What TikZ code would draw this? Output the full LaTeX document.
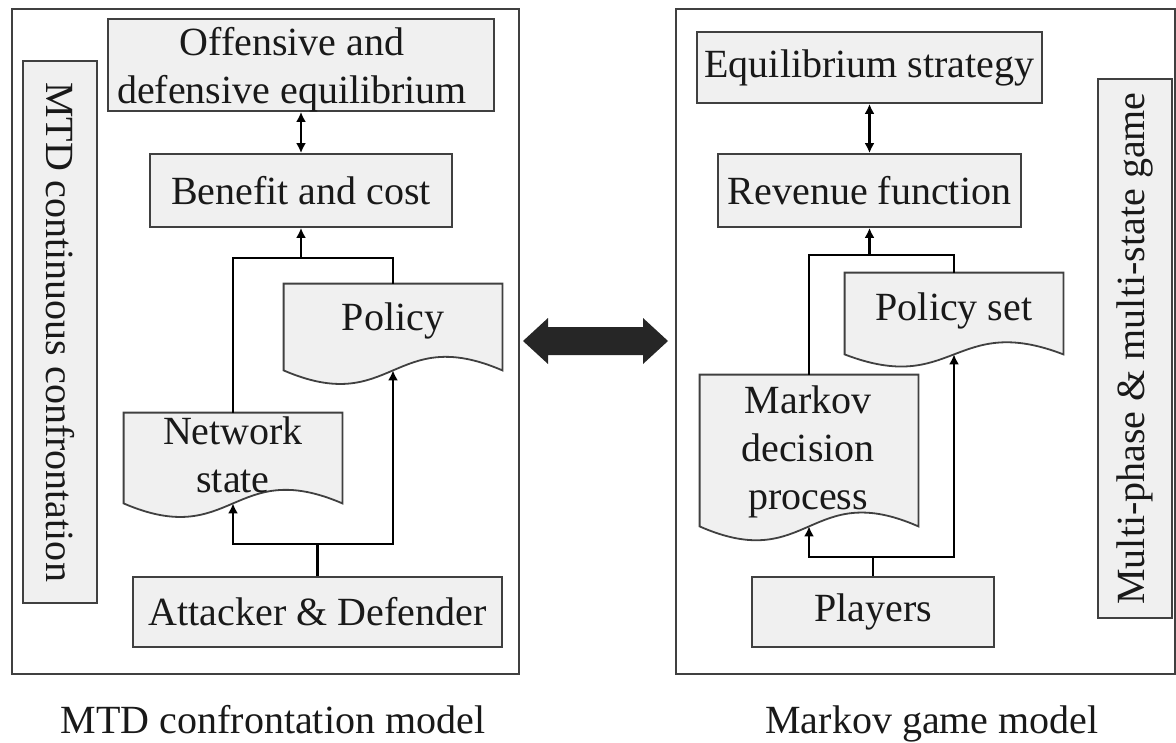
\documentclass[tikz,border=0pt]{standalone}
\usepackage{fontspec}
\setmainfont{Liberation Serif}
\usetikzlibrary{arrows.meta,calc}
\newcommand\figfont{\fontsize{20}{24}\selectfont}
\newcommand\docoutline[2]{%
  \path[docline] (#1.north west) -- (#1.north east) -- (#1.south east)
    .. controls +(-109,-#2) and +(109,#2) .. (#1.south west) -- cycle;}
\begin{document}
\begin{tikzpicture}[x=0.5pt,y=-0.5pt,
  box/.style={draw=black!75,fill=black!6,line width=0.9pt,inner sep=0pt,align=center,font=\figfont,text=black!90},
  frame/.style={draw=black!75,line width=1.3pt,inner sep=0pt},
  docarea/.style={inner sep=0pt},
  docline/.style={draw=black!75,fill=black!6,line width=0.9pt},
  txt/.style={inner sep=0pt,align=center,font=\figfont,text=black!90},
  conn/.style={draw=black,line width=1.1pt},
  arr/.style={conn,-{Latex[length=5pt,width=5pt]}},
  dbl/.style={conn,{Latex[length=5pt,width=5pt]}-{Latex[length=5pt,width=5pt]}},
]
\useasboundingbox (0,0) rectangle (1176,743);

% frames
\node[frame,minimum width=253.5pt,minimum height=332.5pt] (lframe) at (265.5,341.5) {};
\node[frame,minimum width=249.5pt,minimum height=332.5pt] (rframe) at (925.5,341.5) {};

% ---------- left panel ----------
\node[box,rotate=-90,minimum width=271pt,minimum height=37pt] (mtd) at (60,332) {MTD continuous confrontation};
\node[box,minimum width=193pt,minimum height=46pt] (off) at (301,65) {};
\node[txt] (offT) at (292,70) {Offensive and\\defensive equilibrium};
\node[box,minimum width=151pt,minimum height=36.5pt] (ben) at (301,190.5) {Benefit and cost};
\node[box,minimum width=184.5pt,minimum height=35pt] (att) at (317.5,612) {Attacker \& Defender};

\node[docarea,minimum width=109pt,minimum height=45pt] (net) at (233,458) {};
\node[docarea,minimum width=109pt,minimum height=43pt] (pol) at (393,327) {};
\docoutline{net}{47}
\docoutline{pol}{47}
\node[txt] (netT) at (233,455) {Network\\state};
\node[txt] (polT) at (393,321) {Policy};

\coordinate (lyt) at (0,258);
\coordinate (ljt) at (ben.south |- lyt);
\draw[conn] (net.north) -- (net.north |- lyt) -- (pol.north |- lyt) -- (pol.north);
\draw[arr] (ljt) -- (ben.south);
\draw[dbl] (off.south) -- (ben.north);
\coordinate (lyb) at (0,544);
\coordinate (ljb) at (att.north |- lyb);
\draw[conn] (att.north) -- (ljb);
\draw[arr] (ljb) -| (net.south);
\draw[arr] (ljb) -| (pol.south);

\node[txt,anchor=base] (lcap) at (273,733) {MTD confrontation model};

% ---------- right panel ----------
\node[box,rotate=90,minimum width=269.5pt,minimum height=37pt] (mul) at (1135,348.5) {Multi-phase \& multi-state game};
\node[box,minimum width=172.5pt,minimum height=35.5pt] (eq) at (869.5,67.5) {Equilibrium strategy};
\node[box,minimum width=151.5pt,minimum height=36.5pt] (rev) at (869.5,190.5) {Revenue function};
\node[box,minimum width=121pt,minimum height=35pt] (ply) at (873,612) {Players};

\node[docarea,minimum width=109pt,minimum height=40.5pt] (ps) at (954,313.5) {};
\node[docarea,minimum width=109pt,minimum height=75.5pt] (mdp) at (809,450.5) {};
\docoutline{ps}{42}
\docoutline{mdp}{48}
\node[txt] (psT) at (954,311) {Policy set};
\node[txt] (mdpT) at (808,452) {Markov\\decision\\process};

\coordinate (ryt) at (0,255);
\coordinate (rjt) at (rev.south |- ryt);
\draw[conn] (mdp.north) -- (mdp.north |- ryt) -- (ps.north |- ryt) -- (ps.north);
\draw[arr] (rjt) -- (rev.south);
\draw[dbl] (eq.south) -- (rev.north);
\coordinate (ryb) at (0,557);
\coordinate (rjb) at (ply.north |- ryb);
\draw[conn] (ply.north) -- (rjb);
\draw[arr] (rjb) -| (mdp.south);
\draw[arr] (rjb) -| (ps.south);

\node[txt,anchor=base] (rcap) at (932,733) {Markov game model};

% ---------- big double arrow ----------
\fill[black!85] (523,341) -- (548,318) -- (548,327) -- (643,327) -- (643,318) -- (668,341)
  -- (643,364) -- (643,355) -- (548,355) -- (548,364) -- cycle;
\end{tikzpicture}
\end{document}
